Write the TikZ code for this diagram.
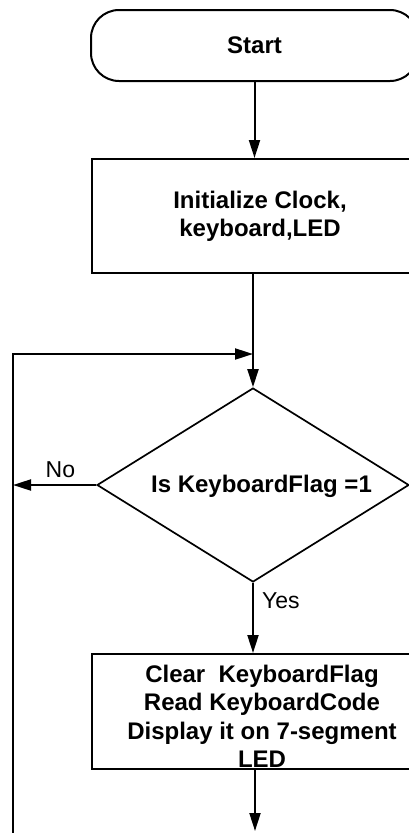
\documentclass[tikz,border=0pt]{standalone}
\usepackage{fontspec}
\setmainfont{Liberation Sans}
\usetikzlibrary{arrows.meta,shapes.geometric}
\begin{document}
\begin{tikzpicture}[x=1pt,y=-1pt,
  line width=2pt,
  >={Triangle[length=18pt,width=11pt]},
  boxtext/.style={font=\fontsize{24}{28.4}\selectfont\bfseries, align=center},
  procbox/.style={draw, rectangle, inner sep=0pt, boxtext},
  decision/.style={draw, diamond, inner sep=0pt, line width=1.7pt},
  lbl/.style={font=\fontsize{23}{26}\selectfont, inner sep=0pt}
]
\path[use as bounding box] (0,0) rectangle (409,833);
\fill[white] (0,0) rectangle (409,833);
\clip (0,0) rectangle (409,833);

\node[procbox, rounded corners=28pt, minimum width=327pt, minimum height=71pt] (start) at (254.5,45.5) {Start};
\node[procbox, minimum width=336pt, minimum height=114pt] (init) at (260,216) {Initialize Clock,\\keyboard,LED};
\node[decision, minimum width=312pt, minimum height=194pt] (dia) at (253,485) {};
\node[boxtext, inner sep=0pt] (diatext) at (261.5,486) {Is KeyboardFlag =1};
\node[procbox, minimum width=340pt, minimum height=115pt] (proc) at (262,711.5)
  {\rule{0pt}{27pt}Clear\ \ KeyboardFlag\\Read KeyboardCode\\Display it on 7-segment\\LED};

\coordinate (join) at (253,354);
\coordinate (loopbot) at (13,840);
\coordinate (endpt) at (255,831);

\draw[->] (start.south) -- (start.south |- init.north);
\draw[->] (dia.north |- init.south) -- (dia.north);
\draw[->] (loopbot) |- (join);
\draw[->] (dia.west) -- (dia.west -| loopbot) node[lbl, pos=0.43, above=6pt] (nolbl) {No};
\draw[->] (dia.south) -- (dia.south |- proc.north) node[lbl, pos=0.25, right=8pt] (yeslbl) {Yes};
\draw[->] (endpt |- proc.south) -- (endpt);
\end{tikzpicture}
\end{document}
